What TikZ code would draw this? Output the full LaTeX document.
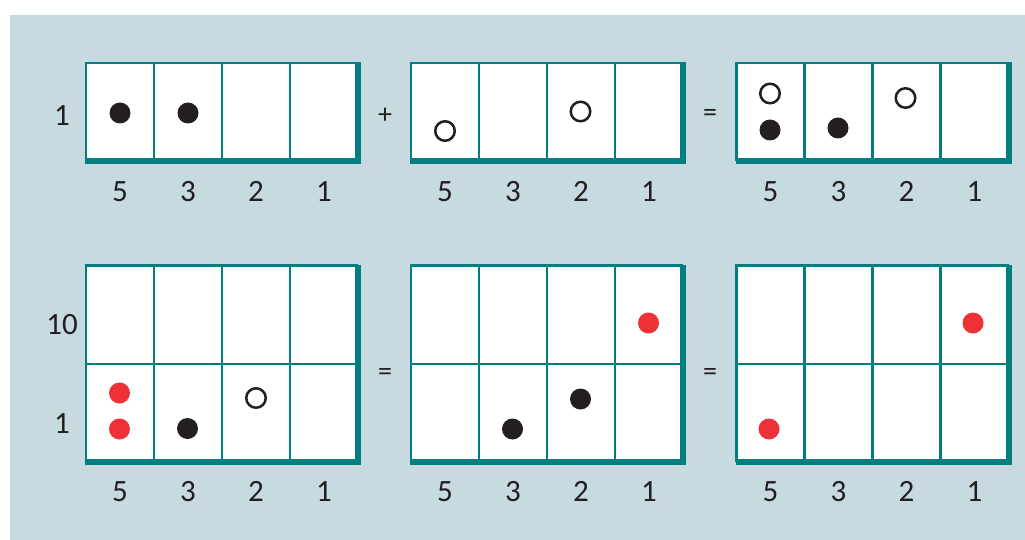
\documentclass[tikz,border=0pt]{standalone}
\usepackage{fontspec}
\setmainfont{Carlito}
\definecolor{bgblue}{RGB}{198,218,223}
\definecolor{teal2}{RGB}{0,126,128}
\definecolor{dotred}{RGB}{238,49,54}
\definecolor{dotblack}{RGB}{35,31,32}
\newcommand\mygrid[4]{% name, left, top, rows
  \coordinate (#1-tl) at (#2,#3);
  \coordinate (#1-br) at ({#2+272},{#3+#4*98.25});
  \fill[white] (#1-tl) rectangle (#1-br);
  \draw[thinline] (#1-tl -| #1-br) -- (#1-tl) -- (#1-tl |- #1-br);
  \foreach \k in {1,2,3} \draw[thinline] ({#2+68*\k},#3) -- ({#2+68*\k},{#3+#4*98.25});
  \ifnum#4>1 \draw[thinline] (#2,{#3+98.25}) -- ({#2+272},{#3+98.25}); \fi
  \draw[thickline] ({#2-1},{#3+#4*98.25}) -- (#1-br) -- ({#2+272},{#3-1});
}
\begin{document}
\begin{tikzpicture}[x=1pt,y=-1pt,
  thinline/.style={teal2,line width=2.1pt},
  thickline/.style={teal2,line width=6pt,line join=miter},
  bdot/.style={circle,fill=dotblack,inner sep=0pt,minimum size=21pt},
  rdot/.style={circle,fill=dotred,inner sep=0pt,minimum size=21pt},
  odot/.style={circle,draw=dotblack,line width=2.5pt,fill=white,inner sep=0pt,minimum size=19.5pt},
  lab/.style={font=\fontsize{31}{31}\selectfont,text=dotblack,inner sep=0pt,anchor=base},
  op/.style={font=\fontsize{28}{28}\selectfont,text=dotblack,inner sep=0pt}]
\useasboundingbox (0,0) rectangle (1025,540);
\fill[bgblue] (10,15) rectangle (1025,540);
% grids
\mygrid{A}{86}{63}{1}
\mygrid{B}{411}{63}{1}
\mygrid{C}{736.5}{63}{1}
\mygrid{D}{86}{265.5}{2}
\mygrid{E}{411}{265.5}{2}
\mygrid{F}{736.5}{265.5}{2}
% column labels
\foreach \g/\x in {a/120,b/445,c/770.5}{
  \node[lab] (\g5t) at (\x,201) {5};
  \node[lab] (\g3t) at ({\x+68},201) {3};
  \node[lab] (\g2t) at ({\x+136},201) {2};
  \node[lab] (\g1t) at ({\x+204},201) {1};
  \node[lab] (\g5b) at (\x,501.5) {5};
  \node[lab] (\g3b) at ({\x+68},501.5) {3};
  \node[lab] (\g2b) at ({\x+136},501.5) {2};
  \node[lab] (\g1b) at ({\x+204},501.5) {1};
}
% row labels
\node[lab] (r1) at (62,126) {1};
\node[lab] (r10) at (62,334) {10};
\node[lab] (r1b) at (62,433) {1};
% operators
\node[op] (plus) at (385,115.5) {+};
\node[op] (eq1) at (710,115.5) {=};
\node[op] (eq2) at (385,374) {=};
\node[op] (eq3) at (710,374) {=};
% dots top row
\node[bdot] (d1) at (120,113) {};
\node[bdot] (d2) at (188,113) {};
\node[odot] (d3) at (445,131) {};
\node[odot] (d4) at (580.5,111.5) {};
\node[odot] (d5) at (770,93.5) {};
\node[bdot] (d6) at (770,130) {};
\node[bdot] (d7) at (838,128) {};
\node[odot] (d8) at (905.5,98) {};
% dots bottom row
\node[rdot] (d9) at (119.5,393) {};
\node[rdot] (d10) at (119.5,429) {};
\node[bdot] (d11) at (187.5,428.5) {};
\node[odot] (d12) at (256,398) {};
\node[rdot] (d13) at (648.5,323) {};
\node[bdot] (d14) at (512.5,429) {};
\node[bdot] (d15) at (580.5,399) {};
\node[rdot] (d16) at (973,323) {};
\node[rdot] (d17) at (769,429) {};
\end{tikzpicture}
\end{document}
